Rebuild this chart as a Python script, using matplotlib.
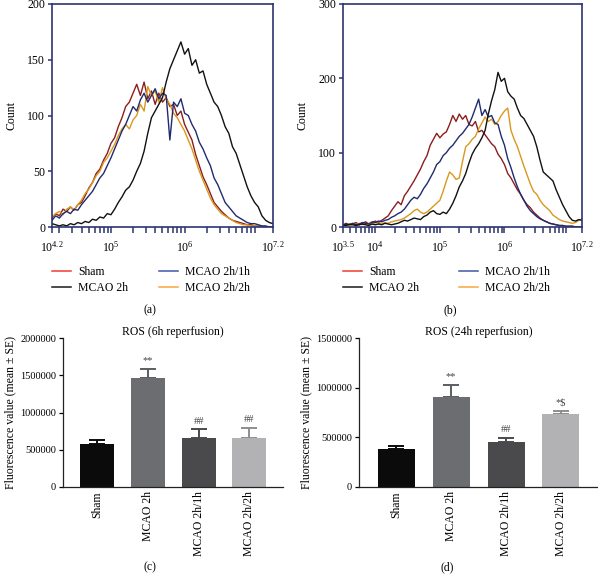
import numpy as np
import matplotlib
matplotlib.use("Agg")
import matplotlib.pyplot as plt
from matplotlib.lines import Line2D
from matplotlib.ticker import FixedLocator, LogLocator, NullFormatter

plt.rcParams['font.family'] = ['Liberation Serif', 'DejaVu Serif']
plt.rcParams['mathtext.fontset'] = 'custom'
plt.rcParams['mathtext.rm'] = 'Liberation Serif'
plt.rcParams['mathtext.it'] = 'Liberation Serif:italic'
plt.rcParams['mathtext.bf'] = 'Liberation Serif:bold'

# ---------------- data ----------------
series_names = ["Sham", "MCAO 2h", "MCAO 2h/1h", "MCAO 2h/2h"]

# panel (a): counts on log10 grid from 4.2 to 7.2
a_range = (4.2, 7.2)
a_sham = [8, 12, 10, 16, 14, 18, 15, 20, 22, 28, 35, 40, 48, 52, 60, 66, 75, 80, 90, 98,
          108, 112, 120, 128, 118, 130, 115, 122, 110, 120, 112, 116, 108, 110, 100, 104,
          92, 85, 78, 65, 55, 45, 38, 30, 22, 18, 14, 11, 8, 6, 5, 4, 3, 2, 2, 1, 1, 0, 0, 0, 0]
a_mcao = [3, 2, 1, 2, 1, 3, 2, 4, 3, 5, 4, 7, 6, 9, 8, 12, 11, 16, 22, 27, 33, 36, 42, 50,
          57, 68, 84, 98, 104, 110, 116, 130, 142, 150, 158, 166, 155, 160, 145, 150, 138,
          140, 128, 120, 112, 108, 100, 90, 84, 72, 66, 56, 46, 36, 28, 22, 18, 10, 6, 4, 3]
a_1h = [6, 10, 8, 12, 14, 12, 16, 15, 20, 24, 28, 32, 38, 44, 48, 55, 62, 70, 78, 86, 92,
        100, 108, 104, 114, 120, 112, 118, 124, 115, 120, 118, 78, 112, 108, 115, 102, 100,
        92, 86, 76, 70, 62, 55, 44, 38, 30, 22, 18, 14, 10, 8, 6, 4, 3, 3, 2, 1, 1, 0, 0]
a_2h = [9, 12, 14, 11, 16, 18, 15, 20, 24, 30, 34, 40, 46, 50, 58, 62, 68, 74, 82, 88, 92,
        88, 96, 100, 110, 104, 126, 118, 122, 112, 125, 115, 110, 102, 98, 92, 86, 78, 70,
        60, 50, 42, 34, 26, 20, 16, 12, 10, 8, 6, 4, 3, 2, 2, 1, 1, 1, 0, 0, 0, 0]

# panel (b): counts on log10 grid from 3.5 to 7.2
b_range = (3.5, 7.2)
b_sham = [3, 5, 2, 4, 6, 3, 5, 7, 4, 6, 8, 6, 9, 12, 15, 22, 28, 34, 30, 42, 48, 55, 62,
          70, 78, 88, 96, 110, 118, 126, 120, 125, 128, 138, 150, 142, 152, 145, 150, 138,
          136, 142, 128, 130, 124, 118, 112, 108, 98, 92, 84, 72, 66, 58, 50, 44, 36, 30,
          26, 20, 16, 12, 9, 7, 5, 4, 3, 2, 2, 1, 1, 1, 0, 0, 0]
b_mcao = [3, 2, 4, 3, 2, 3, 4, 3, 2, 4, 3, 4, 3, 5, 4, 3, 4, 5, 7, 9, 8, 10, 12, 11, 10,
          14, 16, 20, 22, 18, 17, 20, 18, 24, 32, 42, 54, 62, 72, 86, 98, 106, 112, 120,
          130, 152, 170, 185, 208, 196, 200, 182, 176, 172, 160, 150, 146, 138, 130, 122,
          108, 90, 74, 70, 66, 62, 50, 40, 30, 22, 14, 9, 8, 10, 9]
b_1h = [2, 4, 3, 5, 3, 4, 6, 5, 4, 7, 6, 8, 7, 9, 10, 13, 15, 18, 20, 24, 30, 36, 40, 38,
        44, 52, 58, 66, 74, 84, 88, 96, 100, 106, 110, 116, 122, 126, 132, 138, 148, 160,
        172, 150, 158, 148, 150, 140, 138, 122, 110, 92, 80, 66, 54, 44, 36, 28, 22, 18,
        14, 11, 9, 7, 5, 4, 3, 2, 2, 1, 1, 1, 0, 0, 0]
b_2h = [2, 3, 2, 4, 3, 5, 3, 4, 5, 4, 6, 5, 4, 6, 5, 7, 8, 9, 10, 12, 15, 18, 22, 24, 20,
        18, 20, 24, 28, 32, 36, 48, 62, 74, 70, 64, 66, 88, 108, 112, 118, 122, 132, 140,
        148, 142, 145, 138, 142, 150, 156, 160, 130, 118, 108, 95, 82, 70, 58, 48, 44, 36,
        30, 26, 22, 16, 13, 10, 8, 7, 6, 5, 6, 9, 11]

# bar charts
bar_labels = ["Sham", "MCAO 2h", "MCAO 2h/1h", "MCAO 2h/2h"]
c_means = [575000, 1460000, 655000, 660000]
c_err = [55000, 130000, 120000, 135000]
c_marks = ["", "**", "##", "##"]
d_means = [385000, 905000, 450000, 735000]
d_err = [25000, 125000, 45000, 30000]
d_marks = ["", "**", "##", "*$"]

# ---------------- styling ----------------
W, H = 598, 578
fig = plt.figure(figsize=(W / 100, H / 100), dpi=100)

def fr(x0, y0, x1, y1):
    return [x0 / W, 1 - y1 / H, (x1 - x0) / W, (y1 - y0) / H]

navy = '#2c3470'
plot_cols = {"Sham": '#8c1d1d', "MCAO 2h": '#111111', "MCAO 2h/1h": '#1f2b6e', "MCAO 2h/2h": '#d9981c'}
leg_cols = {"Sham": '#f03a30', "MCAO 2h": '#1a1a1a', "MCAO 2h/1h": '#3a58a8', "MCAO 2h/2h": '#f9a53c'}

def hist_panel(rect, rng, data, ymax, yticks, xmaj, xlabels, caption, capx, colsp):
    ax = fig.add_axes(rect)
    order = ["Sham", "MCAO 2h/2h", "MCAO 2h/1h", "MCAO 2h"]
    for name in order:
        vals = data[name]
        x = 10 ** np.linspace(rng[0], rng[1], len(vals))
        ax.plot(x, vals, color=plot_cols[name], lw=1.0)
    ax.set_xscale('log')
    ax.set_xlim(10 ** rng[0], 10 ** rng[1])
    ax.set_ylim(0, ymax)
    ax.xaxis.set_major_locator(FixedLocator([10 ** v for v in xmaj]))
    ax.set_xticklabels(xlabels)
    ax.xaxis.set_minor_locator(LogLocator(base=10, subs=np.arange(2, 10), numticks=20))
    ax.xaxis.set_minor_formatter(NullFormatter())
    ax.set_yticks(yticks)
    for s in ax.spines.values():
        s.set_color(navy)
        s.set_linewidth(1.2)
    ax.tick_params(axis='x', which='both', direction='out', length=4.5, width=1.1,
                   color=navy, labelsize=8.5, pad=5)
    ax.tick_params(axis='y', direction='out', length=3, width=1.1, color=navy,
                   labelsize=8.5, pad=2)
    ax.set_ylabel("Count", fontsize=8.5, labelpad=7)
    handles = [Line2D([], [], color=leg_cols[n], lw=1.1) for n in series_names]
    ax.legend(handles, series_names, ncol=2, frameon=False, fontsize=8.5,
              loc='upper left', bbox_to_anchor=(-0.02, -0.155), handlelength=1.6,
              handletextpad=0.6, columnspacing=colsp, labelspacing=0.3, borderaxespad=0)
    fig.text(capx / W, 1 - 310 / H, caption, ha='center', va='center', fontsize=8.5)
    return ax

hist_panel(fr(52, 4, 273, 227), a_range,
           {"Sham": a_sham, "MCAO 2h": a_mcao, "MCAO 2h/1h": a_1h, "MCAO 2h/2h": a_2h},
           200, [0, 50, 100, 150, 200], [4.2, 5, 6, 7.2],
           [r'$10^{4.2}$', r'$10^{5}$', r'$10^{6}$', r'$10^{7.2}$'], "(a)", 150, 2.6)
hist_panel(fr(343, 4, 582, 227), b_range,
           {"Sham": b_sham, "MCAO 2h": b_mcao, "MCAO 2h/1h": b_1h, "MCAO 2h/2h": b_2h},
           300, [0, 100, 200, 300], [3.5, 4, 5, 6, 7.2],
           [r'$10^{3.5}$', r'$10^{4}$', r'$10^{5}$', r'$10^{6}$', r'$10^{7.2}$'], "(b)", 450, 3.4)

bar_cols = ['#0b0b0b', '#6c6d71', '#4a4a4d', '#b2b2b4']
err_cols = ['#0b0b0b', '#5c5d61', '#4a4a4d', '#8e8e90']

def bar_panel(rect, means, errs, marks, ymax, yticks, title, caption, capx, xlim, width):
    ax = fig.add_axes(rect)
    pos = np.arange(len(means))
    for i in range(len(means)):
        ax.bar(pos[i], means[i], width=width, color=bar_cols[i], zorder=2)
        ax.errorbar(pos[i], means[i], yerr=[[0], [errs[i]]], color=err_cols[i],
                    capsize=6, elinewidth=1.4, capthick=1.4, zorder=1)
        if marks[i]:
            ax.text(pos[i], means[i] + errs[i] + ymax * 0.025, marks[i], ha='center',
                    va='bottom', fontsize=7.5, color='#444444')
    ax.set_xlim(*xlim)
    ax.set_ylim(0, ymax)
    ax.set_yticks(yticks)
    ax.set_yticklabels([str(v) for v in yticks])
    ax.set_xticks(pos)
    ax.set_xticklabels(bar_labels, rotation=90)
    ax.spines['top'].set_visible(False)
    ax.spines['right'].set_visible(False)
    for s in ('left', 'bottom'):
        ax.spines[s].set_linewidth(0.9)
        ax.spines[s].set_color('#222222')
    ax.tick_params(axis='x', length=0, labelsize=8.5, pad=3)
    ax.tick_params(axis='y', direction='out', length=3, width=0.9, labelsize=7.5, pad=2)
    ax.set_ylabel("Fluorescence value (mean ± SE)", fontsize=8.5, labelpad=3)
    ax.set_title(title, fontsize=8.5, pad=1)
    fig.text(capx / W, 1 - 567 / H, caption, ha='center', va='center', fontsize=8.5)
    return ax

bar_panel(fr(63, 338, 283, 487), c_means, c_err, c_marks, 2000000,
          [0, 500000, 1000000, 1500000, 2000000], "ROS (6h reperfusion)", "(c)", 150,
          (-0.67, 3.66), 0.67)
bar_panel(fr(359, 338, 598, 487), d_means, d_err, d_marks, 1500000,
          [0, 500000, 1000000, 1500000], "ROS (24h reperfusion)", "(d)", 447,
          (-0.68, 3.675), 0.675)

fig.savefig("out.png", dpi=100)
